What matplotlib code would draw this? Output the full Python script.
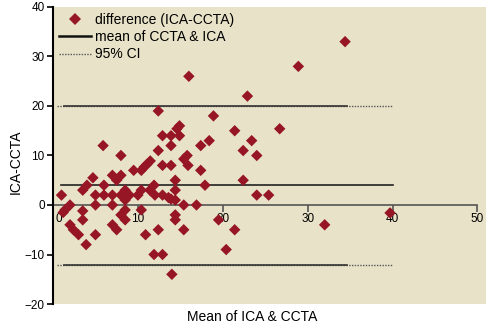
import matplotlib
matplotlib.use("Agg")
from matplotlib import pyplot as plt
from matplotlib.lines import Line2D
from matplotlib.transforms import ScaledTranslation

# mean of ICA & CCTA (x) vs difference ICA-CCTA (y)
mean_vals = [1, 1.4, 1.2, 2, 2, 2.4, 3, 3.5, 3.5, 3.5, 3.9, 4, 4.7, 5, 5, 5,
             5.9, 6, 6, 7, 7, 7, 7, 7.5, 7.5, 8, 8, 8, 8, 8.5, 8.5, 8.5, 8.5,
             9, 9.5, 10,
             10.4, 10.75, 11.05, 11.45, 10.4, 10.4, 10.9, 11.4, 11.9, 12, 11.9,
             12.4, 12.4, 12.4, 12.9, 12.9, 12.9, 12.9, 13.6, 13.9, 13.9, 13.9,
             13.9, 14, 14.4, 14.4, 14.4, 14.4, 14.4, 14.6, 14.9, 14.9, 15.4,
             15.8, 15.9, 15.4, 15.4, 16, 16.9, 17.4, 17.4, 17.9, 18.4, 18.9,
             19.5,
             20.4, 21.4, 21.4, 22.4, 22.4, 22.9, 23.4, 24, 24, 25.4, 26.7, 28.9,
             32, 34.4, 39.7]
diff_vals = [2, -1.0, -1.5, 0, -4, -5, -6, 3, -1.2, -3, -8, 4, 5.5, 2, 0, -6,
             12, 4, 2, 6, 2, 0, -4, 5, -5, 6, 10, 2, -2, 3, 1, -1, -3,
             2, 7, 2,
             7, 7.7, 8.2, 8.9, 3, -1, -6, 3, 4, 2, -10,
             19, 11, -5, 14, 8, 2, -10, 1.5, 14, 12, 8,
             1.2, -14, 5, 3, 1, -2, -3, 15.4, 16, 14, 9.3,
             10, 8, 0, -5, 26, 0, 12, 7, 4, 13, 18,
             -3,
             -9, 15, -5, 11, 5, 22, 13, 10, 2, 2, 15.4, 28,
             -4, 33, -1.6]

mean_diff = 4
ci_upper = 20
ci_lower = -12.2
line_start = 0.9
line_end = 40
solid_start = 1.3
solid_end = 34.6

bg = "#e8e3c8"
red = "#961626"

plt.rcParams['font.family'] = ['Liberation Sans', 'DejaVu Sans']

fig = plt.figure(figsize=(5.02, 3.25), dpi=100)
ax = fig.add_axes([0.1056, 0.0646, 0.8625, 0.9139])
ax.set_facecolor(bg)

# reference lines
ax.plot([line_start, line_end], [mean_diff, mean_diff], color="#222222", lw=1.2, zorder=2)
for y in (ci_upper, ci_lower):
    ax.plot([0.5, line_end], [y, y], color="#555555", lw=1.0, ls=(0, (1, 1)), zorder=2)
    ax.plot([solid_start, solid_end], [y, y], color="#333333", lw=1.2, zorder=2)

ax.scatter(mean_vals, diff_vals, marker="D", s=34, color=red, edgecolors="none", zorder=3)

ax.set_xlim(0, 51)
ax.set_ylim(-20, 40)
ax.set_xticks([0, 10, 20, 30, 40, 50])
ax.set_yticks([-20, -10, 0, 10, 20, 30, 40])
ax.set_yticklabels(["\u221220", "\u221210", "0", "10", "20", "30", "40"])

ax.spines['top'].set_visible(False)
ax.spines['right'].set_visible(False)
ax.spines['left'].set_linewidth(1.5)
ax.spines['bottom'].set_position(('data', 0))
ax.spines['bottom'].set_bounds(0, 50)
ax.spines['bottom'].set_color("#555555")
ax.spines['bottom'].set_linewidth(1.2)
ax.spines['bottom'].set_zorder(1)

ax.tick_params(axis='y', direction='out', length=4, width=1.2, labelsize=8.5, pad=2)
ax.tick_params(axis='x', direction='out', length=5, width=1.2, color="#555555",
               labelsize=8.5, pad=1)

# the "0" label sits just right of the y axis
first = ax.get_xticklabels()[0]
first.set_transform(first.get_transform() + ScaledTranslation(6 / 100, 0, fig.dpi_scale_trans))

ax.set_xlabel("Mean of ICA & CCTA", fontsize=10)
ax.xaxis.set_label_coords(0.46, -0.02)
ax.xaxis.label.set_va('top')
ax.set_ylabel("ICA-CCTA", fontsize=10)
ax.yaxis.set_label_coords(-0.07, 0.48)

handles = [
    Line2D([], [], marker="D", ls="none", color=red, markersize=6, markeredgewidth=0),
    Line2D([], [], color="#111111", lw=1.8),
    Line2D([], [], color="#555555", lw=1.0, ls=(0, (1, 1))),
]
labels = ["difference (ICA-CCTA)", "mean of CCTA & ICA", "95% CI"]
ax.legend(handles, labels, loc="upper left", bbox_to_anchor=(0.0, 1.0), frameon=False,
          fontsize=10, handlelength=2.3, handletextpad=0.3, labelspacing=0.25,
          borderpad=0.3, borderaxespad=0.1)

fig.savefig("out.png", dpi=100, facecolor="white")
